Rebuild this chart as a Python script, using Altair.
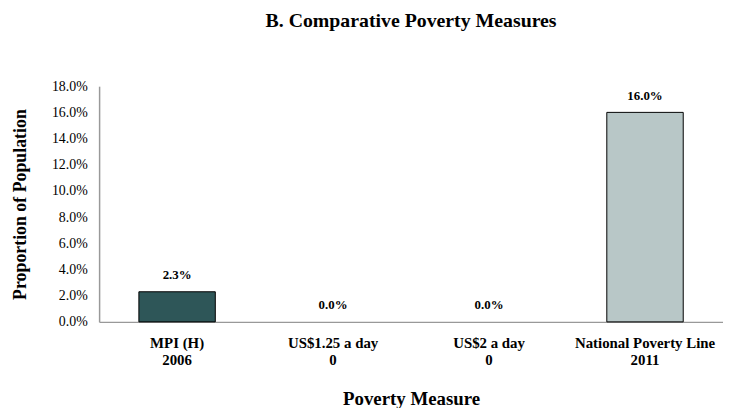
import altair as alt
import pandas as pd

categories = ["MPI (H)\n2006", "US$1.25 a day\n0", "US$2 a day\n0", "National Poverty Line\n2011"]
values = [0.023, 0.0, 0.0, 0.16]
colors = ["#2E5658", "#2E5658", "#2E5658", "#B8C7C7"]
y_ticks = [0, 0.02, 0.04, 0.06, 0.08, 0.10, 0.12, 0.14, 0.16, 0.18]

df = pd.DataFrame({"cat": categories, "val": values, "color": colors})

FONT = "Liberation Serif"

x_enc = alt.X("cat:N", sort=categories, title="Poverty Measure",
              scale=alt.Scale(paddingInner=0.51, paddingOuter=0.255),
              axis=alt.Axis(labelExpr="split(datum.label, '\\n')", labelAngle=0,
                            labelFont=FONT, labelFontWeight="bold", labelFontSize=15,
                            labelColor="#000", labelPadding=21, labelLineHeight=17,
                            labelBaseline="middle",
                            ticks=False, domainColor="#999", domainWidth=1.5,
                            titleFont=FONT, titleFontSize=19, titleFontWeight="bold",
                            titleColor="#000", titlePadding=22))

y_enc = alt.Y("val:Q", title="Proportion of Population",
              scale=alt.Scale(domain=[0, 0.18], nice=False),
              axis=alt.Axis(values=y_ticks, format=".1%", grid=False, ticks=False,
                            labelOverlap=False,
                            labelFont=FONT, labelFontSize=14, labelColor="#000",
                            labelPadding=12, domainColor="#999", domainWidth=1.5,
                            titleFont=FONT, titleFontSize=18, titleFontWeight="bold",
                            titleColor="#000", titlePadding=22))

base = alt.Chart(df).encode(x=x_enc, y=y_enc)

bars = base.mark_bar(stroke="#000").encode(
    color=alt.Color("color:N", scale=None),
    strokeWidth=alt.condition("datum.val > 0", alt.value(1), alt.value(0)),
)

labels = base.mark_text(dy=-17, font=FONT, fontWeight="bold", fontSize=13, color="#000").encode(
    text=alt.Text("val:Q", format=".1%"),
)

chart = (bars + labels).properties(
    width=630, height=238,
    title=alt.TitleParams("B. Comparative Poverty Measures", font=FONT, fontSize=20,
                          fontWeight="bold", color="#000", offset=49, anchor="middle"),
    autosize=alt.AutoSizeParams(type="none"),
    padding={"left": 92, "top": 77, "right": 0, "bottom": 85},
).configure_view(stroke=None)

chart.save("out.html", embed_options={"renderer": "svg", "actions": False})
